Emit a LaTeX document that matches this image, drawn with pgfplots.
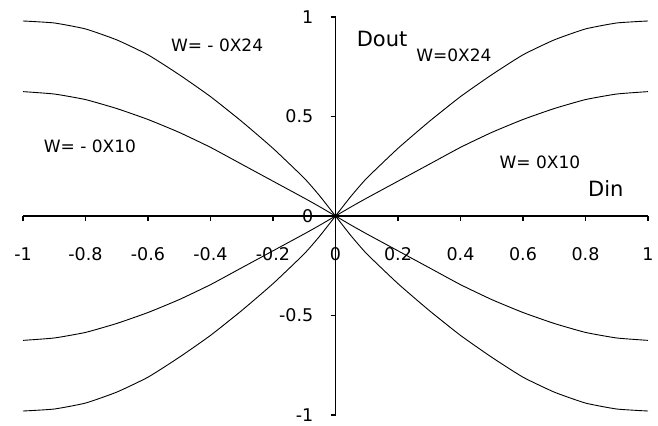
\documentclass[border=0pt]{standalone}
\usepackage{fontspec}
\setmainfont{DejaVu Sans}
\usepackage{pgfplots}
\pgfplotsset{compat=1.18}

% Dout for w=0X24 and w=0X10 (odd curves)
\pgfplotstableread{
x      a      b
-1    -0.98  -0.625
-0.9  -0.97  -0.613
-0.8  -0.94  -0.585
-0.7  -0.885 -0.54
-0.6  -0.81  -0.485
-0.5  -0.71  -0.42
-0.4  -0.60  -0.345
-0.3  -0.475 -0.26
-0.2  -0.34  -0.175
-0.1  -0.19  -0.09
-0.05 -0.10  -0.046
0      0      0
0.05   0.10   0.046
0.1    0.19   0.09
0.2    0.34   0.175
0.3    0.475  0.26
0.4    0.60   0.345
0.5    0.71   0.42
0.6    0.81   0.485
0.7    0.885  0.54
0.8    0.94   0.585
0.9    0.97   0.613
1      0.98   0.625
}\pos
\pgfplotstableread{
x      a      b
-1     0.98   0.625
-0.9   0.97   0.613
-0.8   0.94   0.585
-0.7   0.885  0.54
-0.6   0.81   0.485
-0.5   0.71   0.42
-0.4   0.60   0.345
-0.3   0.475  0.26
-0.2   0.34   0.175
-0.1   0.19   0.09
-0.05  0.10   0.046
0      0      0
0.05  -0.10  -0.046
0.1   -0.19  -0.09
0.2   -0.34  -0.175
0.3   -0.475 -0.26
0.4   -0.60  -0.345
0.5   -0.71  -0.42
0.6   -0.81  -0.485
0.7   -0.885 -0.54
0.8   -0.94  -0.585
0.9   -0.97  -0.613
1     -0.98  -0.625
}\neg

\tikzset{curve/.style={black, line width=0.9bp, smooth, tension=0.3, mark=none}}

\begin{document}
\begin{tikzpicture}
\begin{axis}[
  scale only axis, width=625bp, height=398bp,
  xmin=-1, xmax=1, ymin=-1, ymax=1,
  axis lines=middle,
  axis line style={-, line width=1.1bp},
  xtick={-1,-0.8,-0.6,-0.4,-0.2,0,0.2,0.4,0.6,0.8,1},
  ytick={-1,-0.5,0,0.5,1},
  hide obscured x ticks=false, hide obscured y ticks=false,
  tick align=outside, major tick length=5bp,
  tick style={black, line width=1.1bp},
  /pgf/number format/assume math mode=true,
  ticklabel style={font=\fontsize{17.5bp}{20bp}\selectfont, inner sep=0pt},
  xticklabel style={anchor=center, yshift=-33bp},
  yticklabel style={anchor=east, xshift=-17bp},
  clip=false,
]
\addplot[curve] table[x=x, y=a] {\pos};
\addplot[curve] table[x=x, y=b] {\pos};
\addplot[curve] table[x=x, y=a] {\neg};
\addplot[curve] table[x=x, y=b] {\neg};

\node[font=\fontsize{21bp}{24bp}\selectfont] at (axis cs:0.149,0.89) {Dout};
\node[font=\fontsize{21bp}{24bp}\selectfont] at (axis cs:0.865,0.14) {Din};
\node[font=\fontsize{17bp}{20bp}\selectfont] at (axis cs:0.379,0.805) {W=0X24};
\node[font=\fontsize{17bp}{20bp}\selectfont] at (axis cs:0.654,0.272) {W= 0X10};
\node[font=\fontsize{17bp}{20bp}\selectfont] at (axis cs:-0.379,0.857) {W= - 0X24};
\node[font=\fontsize{17bp}{20bp}\selectfont] at (axis cs:-0.786,0.352) {W= - 0X10};
\end{axis}
\pgfresetboundingbox
\path (current axis.south west) ++(-23bp,-11bp) rectangle ++(658bp,426bp);
\end{tikzpicture}
\end{document}
